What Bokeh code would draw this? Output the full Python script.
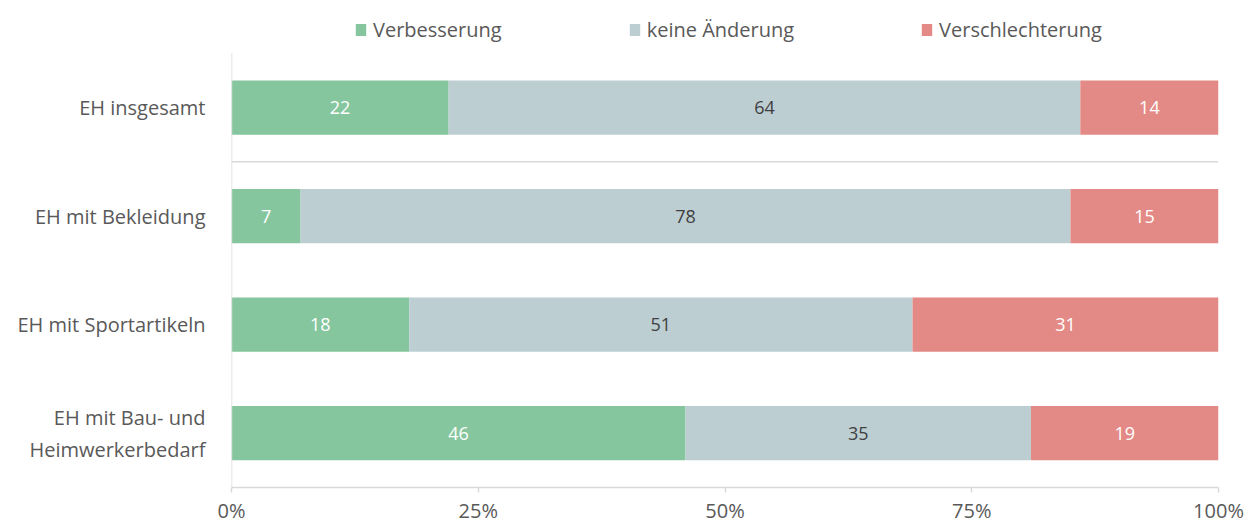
import numpy as np
from bokeh.plotting import figure
from bokeh.models import ColumnDataSource, FixedTicker, Legend, LegendItem
from bokeh.core.properties import value
from bokeh.embed import file_html
from bokeh.resources import INLINE

categories = ["EH insgesamt", "EH mit Bekleidung", "EH mit Sportartikeln", "EH mit Bau- und\nHeimwerkerbedarf"]
verbesserung = [22, 7, 18, 46]
keine_aenderung = [64, 78, 51, 35]
verschlechterung = [14, 15, 31, 19]
series_names = ["Verbesserung", "keine Änderung", "Verschlechterung"]
x_ticks = [0, 25, 50, 75, 100]
x_tick_labels = ["0%", "25%", "50%", "75%", "100%"]

colors = ["#86C69E", "#BDCED3", "#E48A86"]
label_colors = ["#FFFFFF", "#404040", "#FFFFFF"]
FONT = "Open Sans"
GREY = "#595959"
AXIS = "#D9D9D9"

n = len(categories)
ypos = list(range(n - 1, -1, -1))

# frame spans full height; extra room on top holds the legend
p = figure(width=1247, height=526, x_range=(0, 100), y_range=(-0.5, n - 0.5 + 0.486),
           output_backend="svg", toolbar_location=None,
           min_border_left=231, min_border_right=29, min_border_top=0, min_border_bottom=37)
p.outline_line_color = None
p.xgrid.grid_line_color = None
p.ygrid.grid_line_color = None

src = ColumnDataSource(dict(y=ypos, v=verbesserung, k=keine_aenderung, s=verschlechterung))
renderers = p.hbar_stack(["v", "k", "s"], y="y", height=0.5, color=colors, source=src, line_color=None)

vals = np.array([verbesserung, keine_aenderung, verschlechterung], dtype=float)
cum = np.cumsum(vals, axis=0)
starts = cum - vals
for i in range(3):
    lsrc = ColumnDataSource(dict(x=list(starts[i] + vals[i] / 2), y=ypos, t=[str(int(v)) for v in vals[i]]))
    p.text(x="x", y="y", text="t", source=lsrc, text_align="center", text_baseline="middle",
           text_font=value(FONT), text_font_size="18px", text_color=label_colors[i])

# separator between first and other rows
p.segment(x0=[-1], y0=[n - 1.5], x1=[100], y1=[n - 1.5], line_color=AXIS, line_width=1.5)
# vertical axis line spanning only the category area
p.segment(x0=[0], y0=[-0.5], x1=[0], y1=[n - 0.5], line_color=AXIS, line_width=1.5)

# x axis
xa = p.xaxis[0]
xa.ticker = FixedTicker(ticks=x_ticks)
xa.major_label_overrides = {t: l for t, l in zip(x_ticks, x_tick_labels)}
xa.axis_line_color = AXIS
xa.axis_line_width = 1.5
xa.major_tick_line_color = AXIS
xa.major_tick_line_width = 1.5
xa.major_tick_in = 0
xa.major_tick_out = 5
xa.minor_tick_line_color = None
xa.major_label_text_font = FONT
xa.major_label_text_font_size = "20px"
xa.major_label_text_color = GREY
xa.major_label_standoff = 4

# y axis
ya = p.yaxis[0]
ya.ticker = FixedTicker(ticks=ypos)
ya.major_label_overrides = {y: c for y, c in zip(ypos, categories)}
ya.axis_line_color = None
ya.major_tick_line_color = None
ya.minor_tick_line_color = None
ya.major_label_text_font = FONT
ya.major_label_text_font_size = "20px"
ya.major_label_text_color = GREY
ya.major_label_standoff = 20

legend = Legend(items=[LegendItem(label=series_names[i], renderers=[renderers[i]]) for i in range(3)],
                orientation="horizontal", location=(123, 444),
                label_text_font=FONT, label_text_font_size="20px", label_text_color=GREY,
                glyph_width=13, glyph_height=15, label_standoff=6, spacing=126,
                border_line_color=None, background_fill_alpha=0, padding=0, margin=0)
p.add_layout(legend)

open("out.html", "w").write(file_html(p, INLINE))
